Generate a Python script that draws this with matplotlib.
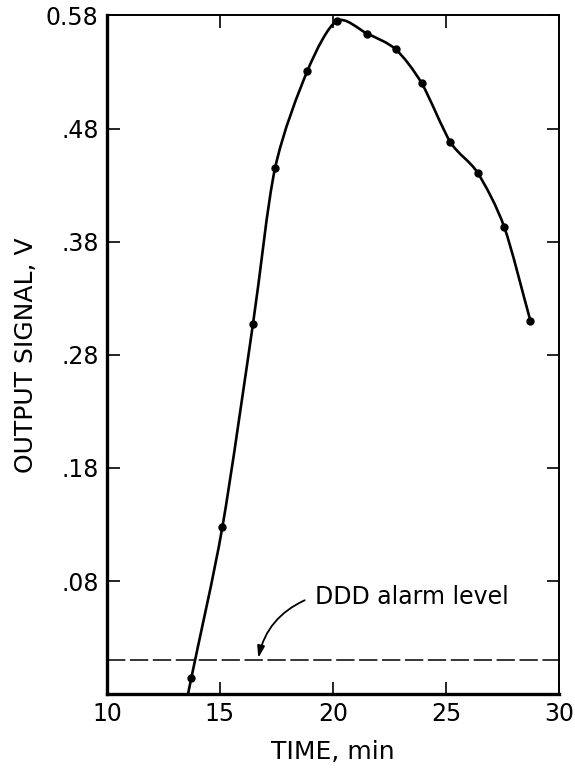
import numpy as np
import matplotlib
matplotlib.use("Agg")
import matplotlib.pyplot as plt
from matplotlib.path import Path
from matplotlib.patches import PathPatch

# readings
time_min = [13.73, 15.11, 16.46, 17.44, 18.87, 20.16, 21.51, 22.78, 23.93, 25.20, 26.40, 27.58, 28.74]
signal_v = [-0.006, 0.128, 0.307, 0.445, 0.531, 0.575, 0.564, 0.550, 0.520, 0.468, 0.441, 0.393, 0.310]
alarm_level = 0.010
x_ticks = [10, 15, 20, 25, 30]
y_ticks = [0.08, 0.18, 0.28, 0.38, 0.48, 0.58]
y_tick_labels = [".08", ".18", ".28", ".38", ".48", "0.58"]

plt.rcParams["font.family"] = ["DejaVu Sans"]

fig = plt.figure(figsize=(5.75, 7.73), dpi=100)
ax = fig.add_axes([0.186, 0.102, 0.786, 0.878])


# smooth curve through the points (Catmull-Rom turned into cubic Bezier segments)
def smooth_path(xs, ys):
    pts = np.column_stack([xs, ys])
    first = 2 * pts[0] - pts[1]
    last = 2 * pts[-1] - pts[-2]
    ext = np.vstack([first, pts, last])
    verts = [pts[0] - (pts[1] - pts[0]) * 0.3]
    codes = [Path.MOVETO]
    verts.append(pts[0])
    codes.append(Path.LINETO)
    for i in range(1, len(ext) - 2):
        p0, p1, p2, p3 = ext[i - 1], ext[i], ext[i + 1], ext[i + 2]
        c1 = p1 + (p2 - p0) / 7
        c2 = p2 - (p3 - p1) / 7
        verts += [c1, c2, p2]
        codes += [Path.CURVE4] * 3
    return Path(verts, codes)


curve = PathPatch(smooth_path(time_min, signal_v), facecolor="none",
                  edgecolor="black", lw=1.9)
ax.add_patch(curve)
ax.plot(time_min, signal_v, "o", color="black", ms=5)

ax.axhline(alarm_level, color="black", lw=1.1, dashes=(12, 3))
ax.text(19.2, 0.066, "DDD alarm level", fontsize=17, va="center", ha="left")
ax.annotate("", xy=(16.7, alarm_level + 0.002), xytext=(18.75, 0.063),
            arrowprops=dict(arrowstyle="-|>,head_length=0.7,head_width=0.22",
                            color="black", lw=1.3, shrinkA=0, shrinkB=0,
                            connectionstyle="arc3,rad=0.25"))

ax.set_xlim(10, 30)
ax.set_ylim(-0.02, 0.58)
ax.set_xticks(x_ticks)
ax.set_yticks(y_ticks)
ax.set_yticklabels(y_tick_labels)
ax.tick_params(direction="in", length=9, width=1.2, labelsize=17,
               top=True, right=True, pad=6)
for side in ["left", "bottom"]:
    ax.spines[side].set_linewidth(2.4)
for side in ["right", "top"]:
    ax.spines[side].set_linewidth(1.4)

ax.set_xlabel("TIME, min", fontsize=18, labelpad=10)
ax.set_ylabel("OUTPUT SIGNAL, V", fontsize=18, labelpad=6)

fig.savefig("out.png", dpi=100)
